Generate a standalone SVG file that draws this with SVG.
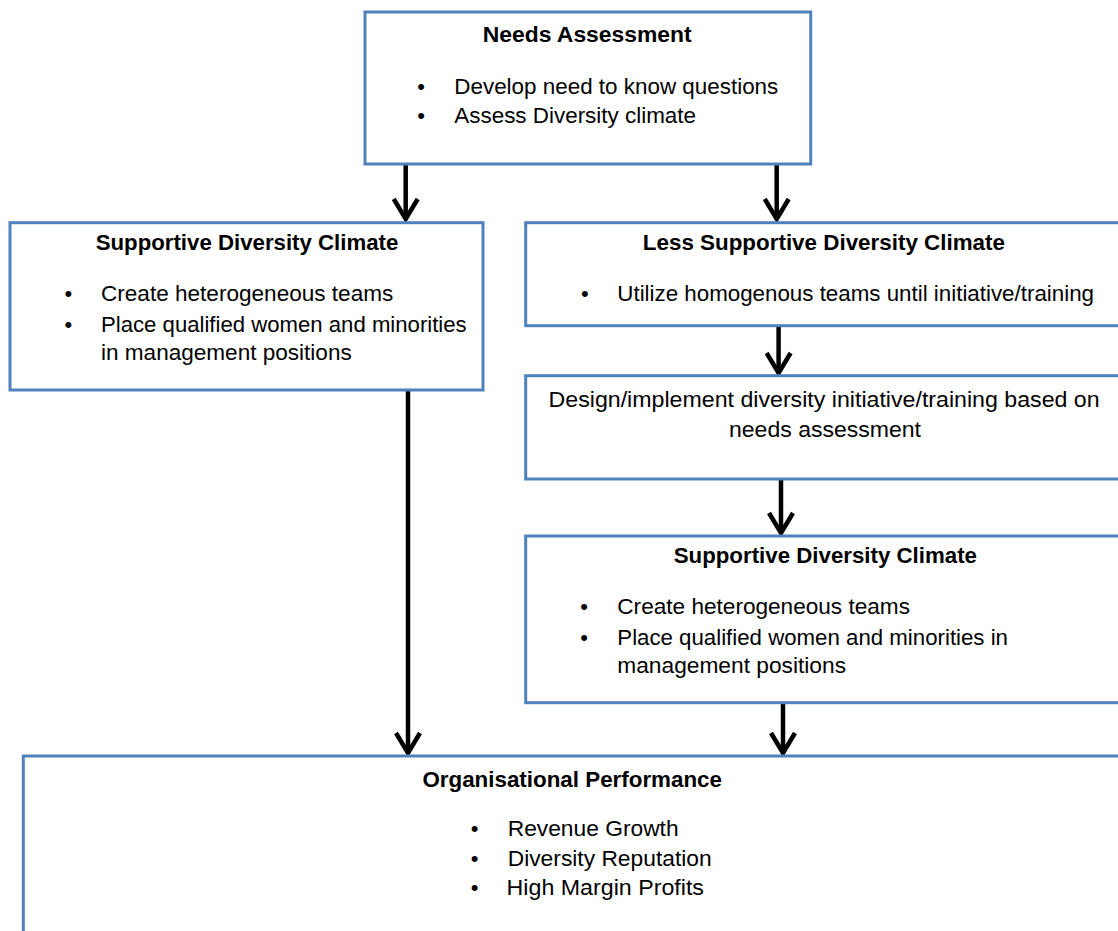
<svg xmlns="http://www.w3.org/2000/svg" width="1118" height="931" viewBox="0 0 1118 931">
  <style>
    .box { fill: #ffffff; stroke: #4F81BD; stroke-width: 3; }
    .t { font-family: "Liberation Sans", Arial, sans-serif; font-size: 22px; fill: #000000; }
    .b { font-weight: bold; }
    .bul { text-anchor: middle; }
    .conn { stroke: #000000; stroke-width: 4.5; fill: none; }
  </style>
  <defs>
    <marker id="arrow" viewBox="0 0 26 28" refX="22" refY="14" markerWidth="26" markerHeight="28" markerUnits="userSpaceOnUse" orient="auto">
      <path d="M2,2 L22,14 L2,26" fill="none" stroke="#000000" stroke-width="4.5" stroke-linejoin="miter"/>
    </marker>
  </defs>
  <rect x="0" y="0" width="1118" height="931" fill="#ffffff"/>

  <g id="connectors">
    <line class="conn" x1="405.7" y1="164" x2="405.7" y2="219" marker-end="url(#arrow)"/>
    <line class="conn" x1="776.7" y1="164" x2="776.7" y2="219" marker-end="url(#arrow)"/>
    <line class="conn" x1="408" y1="390" x2="408" y2="753" marker-end="url(#arrow)"/>
    <line class="conn" x1="778.6" y1="326" x2="778.6" y2="373" marker-end="url(#arrow)"/>
    <line class="conn" x1="781" y1="479" x2="781" y2="533" marker-end="url(#arrow)"/>
    <line class="conn" x1="783" y1="703" x2="783" y2="753" marker-end="url(#arrow)"/>
  </g>

  <g id="needs-assessment">
    <rect class="box" x="365" y="12" width="445.7" height="152"/>
    <text class="t b" x="482.7" y="41.7" textLength="209" lengthAdjust="spacingAndGlyphs">Needs Assessment</text>
    <text class="t bul" x="421" y="94.3">•</text>
    <text class="t" x="454.3" y="94.3" textLength="324" lengthAdjust="spacingAndGlyphs">Develop need to know questions</text>
    <text class="t bul" x="421" y="123.3">•</text>
    <text class="t" x="454.3" y="123.3" textLength="241.7" lengthAdjust="spacingAndGlyphs">Assess Diversity climate</text>
  </g>

  <g id="supportive-left">
    <rect class="box" x="10" y="222.7" width="473" height="167.3"/>
    <text class="t b" x="95.7" y="250" textLength="302.6" lengthAdjust="spacingAndGlyphs">Supportive Diversity Climate</text>
    <text class="t bul" x="68.3" y="300.7">•</text>
    <text class="t" x="101" y="300.7" textLength="292.3" lengthAdjust="spacingAndGlyphs">Create heterogeneous teams</text>
    <text class="t bul" x="68.3" y="331.7">•</text>
    <text class="t" x="101" y="331.7" textLength="365.7" lengthAdjust="spacingAndGlyphs">Place qualified women and minorities</text>
    <text class="t" x="101" y="360" textLength="250.7" lengthAdjust="spacingAndGlyphs">in management positions</text>
  </g>

  <g id="less-supportive">
    <rect class="box" x="525.7" y="222.7" width="620" height="103"/>
    <text class="t b" x="642.8" y="250" textLength="362.2" lengthAdjust="spacingAndGlyphs">Less Supportive Diversity Climate</text>
    <text class="t bul" x="584.8" y="300.7">•</text>
    <text class="t" x="617.3" y="300.7" textLength="476.7" lengthAdjust="spacingAndGlyphs">Utilize homogenous teams until initiative/training</text>
  </g>

  <g id="design-implement">
    <rect class="box" x="525.7" y="375.7" width="620" height="103.3"/>
    <text class="t" x="548.6" y="407.3" textLength="551" lengthAdjust="spacingAndGlyphs">Design/implement diversity initiative/training based on</text>
    <text class="t" x="729" y="436.7" textLength="192" lengthAdjust="spacingAndGlyphs">needs assessment</text>
  </g>

  <g id="supportive-right">
    <rect class="box" x="525.7" y="536" width="620" height="166.7"/>
    <text class="t b" x="673.7" y="563.3" textLength="303.3" lengthAdjust="spacingAndGlyphs">Supportive Diversity Climate</text>
    <text class="t bul" x="584" y="614.3">•</text>
    <text class="t" x="617.3" y="614.3" textLength="292.7" lengthAdjust="spacingAndGlyphs">Create heterogeneous teams</text>
    <text class="t bul" x="584" y="645">•</text>
    <text class="t" x="617.3" y="645" textLength="390.7" lengthAdjust="spacingAndGlyphs">Place qualified women and minorities in</text>
    <text class="t" x="617.3" y="672.7" textLength="228.7" lengthAdjust="spacingAndGlyphs">management positions</text>
  </g>

  <g id="organisational-performance">
    <rect class="box" x="23.3" y="756" width="1120" height="200"/>
    <text class="t b" x="422.4" y="786.7" textLength="299.6" lengthAdjust="spacingAndGlyphs">Organisational Performance</text>
    <text class="t bul" x="474.5" y="836">•</text>
    <text class="t" x="507.7" y="836" textLength="170.9" lengthAdjust="spacingAndGlyphs">Revenue Growth</text>
    <text class="t bul" x="474.5" y="866">•</text>
    <text class="t" x="507.7" y="866" textLength="204" lengthAdjust="spacingAndGlyphs">Diversity Reputation</text>
    <text class="t bul" x="474.5" y="895">•</text>
    <text class="t" x="506.6" y="895" textLength="197.4" lengthAdjust="spacingAndGlyphs">High Margin Profits</text>
  </g>
</svg>
